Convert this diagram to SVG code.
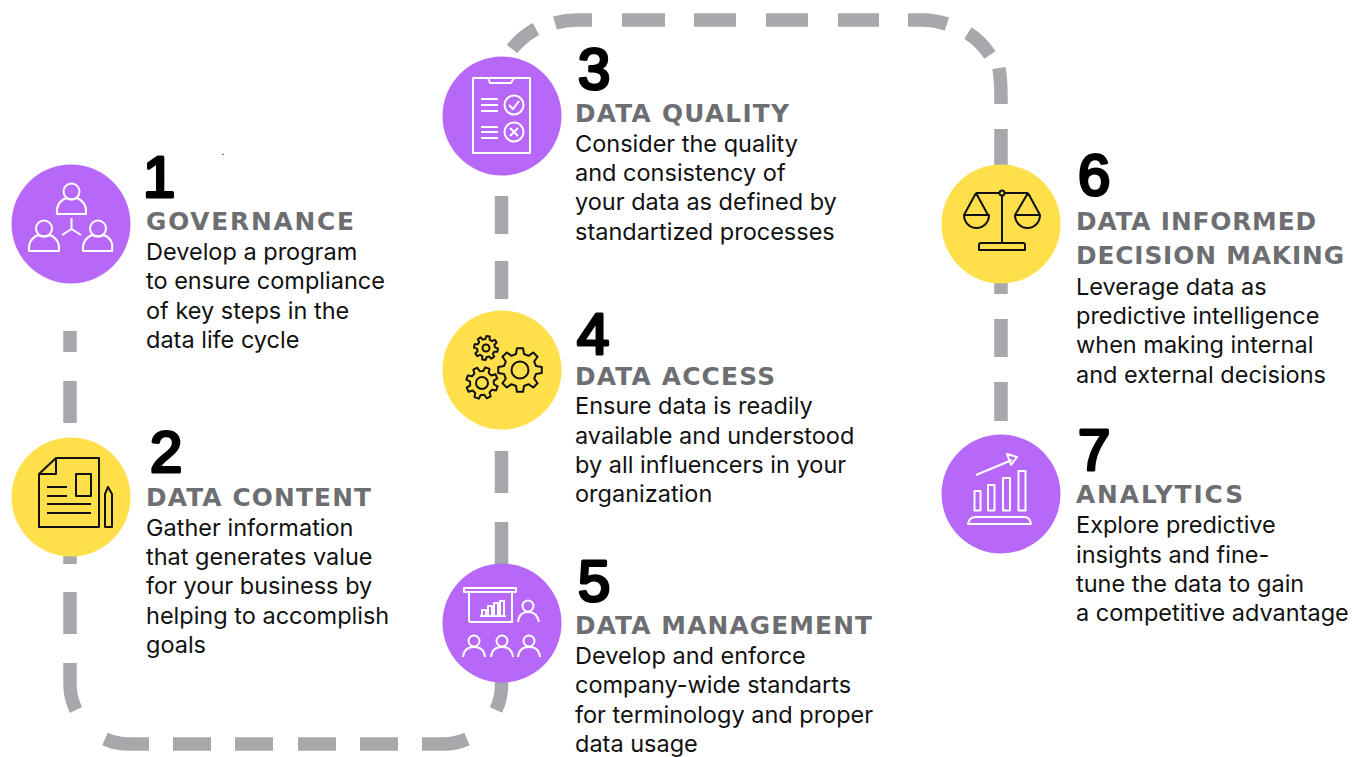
<svg xmlns="http://www.w3.org/2000/svg" width="1368" height="757" viewBox="0 0 1368 757">
<style>
.dash{fill:none;stroke:#a7a8ab;stroke-width:13.5}
.p{fill:#b768f9}.y{fill:#ffdf4a}
.num{font-family:"Liberation Sans",Arial,sans-serif;font-size:58px;font-weight:400;fill:#000;stroke:#000;stroke-width:3.2;stroke-linejoin:round}
.h{font-family:"DejaVu Sans","Liberation Sans",sans-serif;font-size:24.800px;font-weight:700;fill:#6d6e71}
.b{font-family:"Inter","Liberation Sans",sans-serif;font-size:23.500px;fill:#111}
.w{fill:none;stroke:#fff;stroke-width:2;stroke-linejoin:round}
.k{fill:none;stroke:#111;stroke-width:2;stroke-linejoin:round}
.g{vector-effect:non-scaling-stroke}
</style>
<defs>
<path id="gear" class="g" d="M.728 -.181L.99 -.139L.99 .139L.728 .181L.643 .387L.798 .602L.602 .798L.387 .643L.181 .728L.139 .99L-.139 .99L-.181 .728L-.387 .643L-.602 .798L-.798 .602L-.643 .387L-.728 .181L-.99 .139L-.99 -.139L-.728 -.181L-.643 -.387L-.798 -.602L-.602 -.798L-.387 -.643L-.181 -.728L-.139 -.99L.139 -.99L.181 -.728L.387 -.643L.602 -.798L.798 -.602L.643 -.387Z"/>
</defs>
<rect width="1368" height="757" fill="#fff"/>
<g id="connectors" class="dash">
<path d="M70 331V352M70 381V423M70 480V564M70 592V634"/>
<path d="M70 663V685A59 59 0 0 0 76 710"/>
<path d="M105 739A59 59 0 0 0 129 744H149M173 744H211M235 744H273M298 744H336M360 744H398M422 744H442.500A59 59 0 0 0 467 739"/>
<path d="M496 710A59 59 0 0 0 501.500 685V640"/>
<path d="M501.500 600V522M501.500 493V451M501.500 299V261M501.500 234V196"/>
<path d="M512 49A78 78 0 0 1 536 29M555 23A78 78 0 0 1 580 20H592M622 20H665M694 20H736M766 20H808M838 20H879M908 20H923A78 78 0 0 1 947 24M968 33A78 78 0 0 1 990 55"/>
<path d="M999 68Q1001 80 1001 100V104M1001 129V180M1001 260V294M1001 319V357M1001 382V421"/>
</g>
<g id="node1"><circle class="p" cx="71" cy="224" r="59.500"/>
<g class="w"><circle cx="71.500" cy="191.500" r="8"/><path d="M57 214Q56 202 66 198Q71.500 201 77 198Q87 202 86 214Z"/><circle cx="44" cy="228.500" r="8"/><path d="M29 251Q28 239 38 235Q44 238 50 235Q60 239 59 251Z"/><circle cx="98" cy="228.500" r="8"/><path d="M83 251Q82 239 92 235Q98 238 104 235Q114 239 112 251Z"/><path d="M71.500 218V229M71.500 229L62 235M71.500 229L81 235"/></g>
<text class="num" x="143" y="197">1</text><text class="h" x="146" y="230" textLength="208">GOVERNANCE</text>
<text class="b" x="146" y="260">Develop a program</text><text class="b" x="146" y="289">to ensure compliance</text><text class="b" x="146" y="319">of key steps in the</text><text class="b" x="146" y="348">data life cycle</text></g>
<g id="node2"><circle class="y" cx="71" cy="497" r="59.500"/>
<g class="k"><path d="M39 474L56 458H99V527H39ZM39 474H56V458"/><rect x="76" y="474" width="15" height="22"/><path d="M47 487H67M47 496H67M47 504H91M47 513H91"/><path d="M105 527V494L108 487L112 494V527Z"/></g>
<text class="num" x="150" y="472">2</text><text class="h" x="146" y="506" textLength="225">DATA CONTENT</text>
<text class="b" x="146" y="536">Gather information</text><text class="b" x="146" y="565">that generates value</text><text class="b" x="146" y="594">for your business by</text><text class="b" x="146" y="624">helping to accomplish</text><text class="b" x="146" y="653">goals</text></g>
<g id="node3"><circle class="p" cx="502" cy="116" r="59.500"/>
<g class="w"><rect x="473" y="78" width="57" height="75"/><path d="M488 78L490 83H511L514 78"/><path d="M481 99H498M481 105H498M481 111H498M481 127H498M481 132H498M481 138H498"/><circle cx="514" cy="105" r="9.500"/><path d="M509 105L513 109L519 101"/><circle cx="514" cy="132" r="9.500"/><path d="M510 128L518 136M518 128L510 136"/></g>
<text class="num" x="578" y="89">3</text><text class="h" x="575" y="122" textLength="214">DATA QUALITY</text>
<text class="b" x="575" y="152">Consider the quality</text><text class="b" x="575" y="181">and consistency of</text><text class="b" x="575" y="210">your data as defined by</text><text class="b" x="575" y="240">standartized processes</text></g>
<g id="node4"><circle class="y" cx="502" cy="370" r="59.500"/>
<g class="k"><circle cx="520" cy="370" r="8.500"/><use href="#gear" transform="translate(520 370) scale(22)"/><circle cx="482" cy="383" r="6"/><use href="#gear" transform="translate(482 383) rotate(20) scale(16)"/><circle cx="486" cy="348" r="3.500"/><use href="#gear" transform="translate(486 348) rotate(10) scale(12)"/></g>
<text class="num" x="577" y="354">4</text><text class="h" x="575" y="385" textLength="200">DATA ACCESS</text>
<text class="b" x="575" y="414">Ensure data is readily</text><text class="b" x="575" y="444">available and understood</text><text class="b" x="575" y="473">by all influencers in your</text><text class="b" x="575" y="502">organization</text></g>
<g id="node5"><circle class="p" cx="502" cy="623" r="59.500"/>
<g class="w"><path d="M464 588H516V592H464ZM469 592V620Q469 622 471 622H512V592M482 616V610H486V616M488 616V606H492V616M494 616V603H498V616M500 616V601H504V616M480 616H506"/><circle cx="528" cy="606" r="5.500"/><path d="M518 622Q519 612 528 612Q537 612 539 622"/><circle cx="474" cy="641" r="5.500"/><path d="M463 657Q464 647 474 647Q484 647 485 657"/><circle cx="502" cy="641" r="5.500"/><path d="M491 657Q492 647 502 647Q512 647 513 657"/><circle cx="529" cy="641" r="5.500"/><path d="M518 657Q519 647 529 647Q539 647 540 657"/></g>
<text class="num" x="578" y="601">5</text><text class="h" x="575" y="634" textLength="297">DATA MANAGEMENT</text>
<text class="b" x="575" y="664">Develop and enforce</text><text class="b" x="575" y="693">company-wide standarts</text><text class="b" x="575" y="723">for terminology and proper</text><text class="b" x="575" y="752">data usage</text></g>
<g id="node6"><circle class="y" cx="1001" cy="224" r="59.500"/>
<g class="k"><path d="M976 193H1028M1002 196V243M979 250V245Q979 243 981 243H1023Q1025 243 1025 245V250Z"/><path d="M976 193L964 215M976 193L988 215M964 215H989A12.500 13 0 0 1 964 215ZM1028 193L1015 215M1028 193L1040 215M1015 215H1040A12.500 13 0 0 1 1015 215Z"/><circle cx="1002" cy="193" r="2.500" fill="#ffdf4a"/></g>
<text class="num" x="1078" y="195">6</text><text class="h" x="1076" y="230" textLength="240">DATA INFORMED</text><text class="h" x="1076" y="264" textLength="268">DECISION MAKING</text>
<text class="b" x="1076" y="295">Leverage data as</text><text class="b" x="1076" y="324">predictive intelligence</text><text class="b" x="1076" y="353">when making internal</text><text class="b" x="1076" y="383">and external decisions</text></g>
<g id="node7"><circle class="p" cx="1001" cy="494" r="59.500"/>
<g class="w"><rect x="974.500" y="491" width="6" height="19.500"/><rect x="988" y="485" width="6.500" height="25.500"/><rect x="1003" y="478" width="7" height="32.500"/><rect x="1018.500" y="471" width="7" height="39.500"/><path d="M968 524Q969 517 976 517H1024Q1030 517 1031 524Z"/><path d="M976 475L1012 460M1007 454L1017 457L1011 465Z"/></g>
<text class="num" x="1078" y="470">7</text><text class="h" x="1076" y="503" textLength="167">ANALYTICS</text>
<text class="b" x="1076" y="533">Explore predictive</text><text class="b" x="1076" y="563">insights and fine-</text><text class="b" x="1076" y="592">tune the data to gain</text><text class="b" x="1076" y="621">a competitive advantage</text></g>
<circle cx="223" cy="154.500" r="0.700" fill="#222"/>
</svg>
